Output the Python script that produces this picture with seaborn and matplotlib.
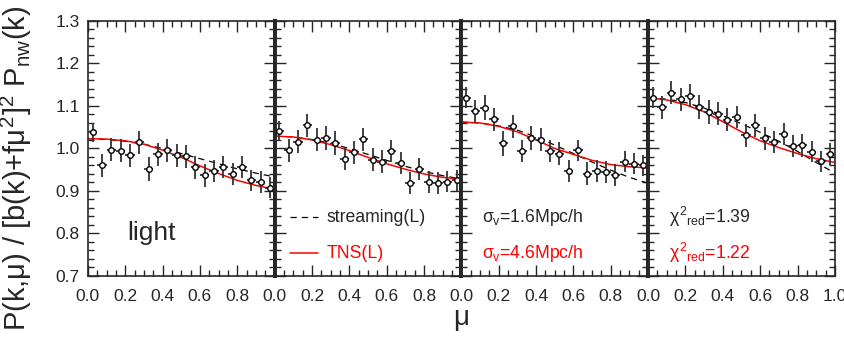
import numpy as np
import pandas as pd
import matplotlib
matplotlib.use("Agg")
import matplotlib.pyplot as plt
from matplotlib.ticker import MultipleLocator
import seaborn as sns

# bin centres in mu and the measured ratio for each panel
mu_bins = [0.025, 0.075, 0.125, 0.175, 0.225, 0.275, 0.325, 0.375, 0.425, 0.475,
           0.525, 0.575, 0.625, 0.675, 0.725, 0.775, 0.825, 0.875, 0.925, 0.975]

ratio_1 = [1.038, 0.961, 0.997, 0.995, 0.984, 1.014, 0.951, 0.986, 0.996, 0.984,
           0.982, 0.956, 0.937, 0.947, 0.957, 0.940, 0.956, 0.925, 0.921, 0.908]
ratio_2 = [1.041, 0.996, 1.016, 1.055, 1.021, 1.025, 1.013, 0.976, 0.991, 1.022,
           0.974, 0.969, 0.994, 0.965, 0.919, 0.951, 0.922, 0.919, 0.922, 0.925]
ratio_3 = [1.119, 1.088, 1.096, 1.069, 1.012, 1.052, 0.994, 1.025, 1.020, 0.994,
           0.987, 0.947, 0.996, 0.941, 0.947, 0.944, 0.937, 0.969, 0.964, 0.960]
ratio_4 = [1.119, 1.097, 1.131, 1.116, 1.124, 1.098, 1.085, 1.082, 1.067, 1.074,
           1.031, 1.055, 1.024, 1.016, 1.034, 1.005, 1.007, 0.992, 0.970, 0.987]

err_1 = [0.022, 0.027, 0.027, 0.027, 0.027, 0.028, 0.028, 0.027, 0.027, 0.027,
         0.027, 0.027, 0.027, 0.026, 0.026, 0.026, 0.026, 0.025, 0.025, 0.025]
err_2 = [0.024, 0.027, 0.027, 0.027, 0.028, 0.028, 0.028, 0.027, 0.027, 0.027,
         0.027, 0.027, 0.027, 0.026, 0.026, 0.026, 0.026, 0.025, 0.025, 0.025]
err_3 = [0.025, 0.027, 0.030, 0.027, 0.030, 0.027, 0.027, 0.028, 0.027, 0.027,
         0.027, 0.027, 0.025, 0.026, 0.026, 0.026, 0.026, 0.025, 0.025, 0.025]
err_4 = [0.025, 0.027, 0.027, 0.027, 0.027, 0.028, 0.028, 0.027, 0.027, 0.027,
         0.027, 0.027, 0.027, 0.026, 0.026, 0.026, 0.026, 0.025, 0.025, 0.025]

# model curves read at mu = 0, 0.1, ..., 1.0
mu_model = [0.0, 0.1, 0.2, 0.3, 0.4, 0.5, 0.6, 0.7, 0.8, 0.9, 1.0]
stream_1 = [1.023, 1.021, 1.017, 1.010, 1.000, 0.988, 0.976, 0.964, 0.952, 0.942, 0.933]
tns_1 = [1.023, 1.022, 1.018, 1.010, 0.996, 0.979, 0.959, 0.941, 0.925, 0.913, 0.904]
stream_2 = [1.029, 1.027, 1.021, 1.012, 1.000, 0.986, 0.972, 0.958, 0.946, 0.936, 0.928]
tns_2 = [1.029, 1.027, 1.020, 1.009, 0.995, 0.979, 0.964, 0.951, 0.940, 0.932, 0.928]
stream_3 = [1.062, 1.060, 1.053, 1.043, 1.027, 1.008, 0.988, 0.968, 0.949, 0.932, 0.918]
tns_3 = [1.062, 1.060, 1.052, 1.039, 1.020, 1.000, 0.986, 0.972, 0.962, 0.957, 0.954]
stream_4 = [1.119, 1.116, 1.108, 1.095, 1.077, 1.058, 1.038, 1.017, 0.993, 0.967, 0.942]
tns_4 = [1.119, 1.114, 1.103, 1.086, 1.063, 1.039, 1.018, 1.002, 0.988, 0.976, 0.967]

ratios = [ratio_1, ratio_2, ratio_3, ratio_4]
errors = [err_1, err_2, err_3, err_4]
streams = [stream_1, stream_2, stream_3, stream_4]
tnss = [tns_1, tns_2, tns_3, tns_4]

sns.set_style("ticks")
plt.rcParams['font.family'] = ['Liberation Sans', 'DejaVu Sans']
plt.rcParams['mathtext.fontset'] = 'custom'
plt.rcParams['mathtext.rm'] = 'Liberation Sans'
plt.rcParams['mathtext.it'] = 'Liberation Sans'

fig, axes = plt.subplots(1, 4, figsize=(8.45, 3.37), dpi=100, sharey=True)
fig.subplots_adjust(left=0.104, right=0.988, top=0.938, bottom=0.181, wspace=0)

for i, ax in enumerate(axes):
    df = pd.DataFrame({'mu': mu_model, 'stream': streams[i], 'tns': tnss[i]})
    sns.lineplot(data=df, x='mu', y='stream', ax=ax, color='black', lw=0.9,
                 linestyle=(0, (5, 4)))
    sns.lineplot(data=df, x='mu', y='tns', ax=ax, color='red', lw=1.1)
    ax.errorbar(mu_bins, ratios[i], yerr=errors[i], xerr=0.025, fmt='none',
                ecolor='#333333', elinewidth=1.3, capsize=0, zorder=3)
    pts = pd.DataFrame({'mu': mu_bins, 'r': ratios[i]})
    sns.scatterplot(data=pts, x='mu', y='r', ax=ax, marker='o', s=16,
                    facecolor='white', edgecolor='black', linewidth=1.0, zorder=4)

    ax.set_xlim(0, 1)
    ax.set_ylim(0.7, 1.3)
    ax.xaxis.set_major_locator(MultipleLocator(0.2))
    ax.xaxis.set_minor_locator(MultipleLocator(0.05))
    ax.yaxis.set_major_locator(MultipleLocator(0.1))
    ax.yaxis.set_minor_locator(MultipleLocator(0.02))
    ax.tick_params(which='both', direction='in', top=True, right=True,
                   labelsize=12.5, width=1.0)
    ax.tick_params(which='major', length=8)
    ax.tick_params(which='minor', length=4)
    ax.tick_params(axis='x', which='major', pad=9)
    ax.tick_params(axis='y', which='major', pad=6)
    ax.set_xlabel('')
    ax.set_ylabel('')
    if i < 3:
        ax.set_xticks([0.0, 0.2, 0.4, 0.6, 0.8])
    ax.xaxis.set_major_formatter(matplotlib.ticker.FormatStrFormatter('%.1f'))
    ax.yaxis.set_major_formatter(matplotlib.ticker.FormatStrFormatter('%.1f'))
    for side in ['top', 'bottom']:
        ax.spines[side].set_linewidth(1.2)
    ax.spines['left'].set_linewidth(1.2 if i == 0 else 2.8)
    ax.spines['right'].set_linewidth(1.2 if i == 3 else 2.8)

fig.text(0.02, 0.5, r'P(k,$\mu$) / [b(k)+f$\mu^2$]$^2$ P$_{\rm nw}$(k)', fontsize=21,
         rotation=90, ha='center', va='center')
fig.text(0.545, 0.035, r'$\mu$', fontsize=20, ha='center')

axes[0].text(0.21, 0.80, 'light', fontsize=19, va='center')

axes[1].plot([0.08, 0.23], [0.838, 0.838], color='black', lw=0.9, linestyle=(0, (5, 4)))
axes[1].text(0.28, 0.838, 'streaming(L)', fontsize=12.7, va='center')
axes[1].plot([0.08, 0.23], [0.754, 0.754], color='red', lw=1.1)
axes[1].text(0.28, 0.754, 'TNS(L)', fontsize=12.7, va='center', color='red')

axes[2].text(0.11, 0.838, r'$\sigma_{\rm v}$=1.6Mpc/h', fontsize=12.7, va='center')
axes[2].text(0.11, 0.754, r'$\sigma_{\rm v}$=4.6Mpc/h', fontsize=12.7, va='center', color='red')

axes[3].text(0.11, 0.838, r'$\chi^{2}$$_{\rm red}$=1.39', fontsize=12.7, va='center')
axes[3].text(0.11, 0.754, r'$\chi^{2}$$_{\rm red}$=1.22', fontsize=12.7, va='center', color='red')

fig.savefig('out.png', dpi=100)
